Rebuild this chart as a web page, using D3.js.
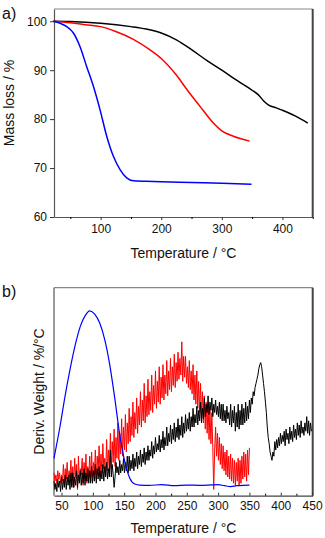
<!DOCTYPE html>
<html><head><meta charset="utf-8">
<script src="https://cdn.jsdelivr.net/npm/d3@7"></script>
<style>
html,body{margin:0;padding:0;background:#fff;}
svg{display:block;font-family:"Liberation Sans",Arial,sans-serif;}
</style></head>
<body>
<svg id="c" width="325" height="538"></svg>
<script>
// ---------- Panel a: TGA mass loss ----------
const aXTicks = [100, 200, 300, 400];
const aYTicks = [60, 70, 80, 90, 100];
const aBlackT = [22, 50, 100, 150, 175, 200, 225, 250, 275, 300, 325, 350, 360, 370, 378, 390, 400, 420, 442];
const aBlackV = [100, 99.95, 99.6, 98.9, 98.4, 97.6, 96.2, 94.2, 92.0, 90.0, 87.9, 85.9, 85.0, 83.6, 82.8, 82.3, 81.8, 80.7, 79.2];
const aRedT = [22, 50, 75, 100, 125, 154, 181, 200, 225, 242, 264, 286, 300, 319, 346];
const aRedV = [100, 99.7, 99.3, 98.9, 97.9, 96.3, 94.2, 92.4, 89.0, 86.1, 82.6, 79.2, 77.6, 76.5, 75.5];
const aBlueT = [22, 33, 44, 55, 66, 77, 88, 99, 110, 121, 132, 143, 154, 175, 200, 250, 300, 349];
const aBlueV = [100, 99.6, 98.9, 97.6, 94.8, 90.7, 86.7, 81.9, 76.5, 72.4, 69.7, 68.0, 67.4, 67.3, 67.2, 67.05, 66.9, 66.7];

// ---------- Panel b: DTG ----------
const bXTicks = [50, 100, 150, 200, 250, 300, 350, 400, 450];
const bBlueT = [38, 48, 56, 64, 72, 80, 88, 95, 103, 111, 119, 127, 135, 143, 151, 159, 167, 175, 190, 210, 230, 250, 270, 290, 300, 310, 320, 330, 340, 350];
const bBlueV = [18, 34, 48.5, 61.3, 72.6, 81.4, 86.7, 88.9, 87.3, 83, 75, 62.9, 46.9, 29.2, 16.4, 8.4, 5.6, 5.1, 5.0, 5.3, 4.8, 5.1, 5.0, 5.2, 5.3, 4.8, 4.4, 4.8, 5.0, 5.1];
const bRedStart = 38, bRedStep = 1.5;
const bRedV = [
  11,7,10,6,12,8,11,6,10,7, 15,6,13,8,16,7,12,9,17,5,
  14,4,18,9,15,3,19,7,13,10, 18,5,16,8,20,6,14,9,19,7,
  21,9,16,10,22,8,19,12,24,9, 20,11,25,13,18,10,27,12,22,11,
  30,13,26,16,32,14,28,18,35,17, 30,20,37,19,33,22,39,21,35,25,
  42,26,38,29,45,28,40,32,47,30, 43,34,50,33,46,36,54,35,48,38,
  56,39,50,41,58,40,53,44,60,42, 55,45,62,44,57,47,63,46,58,49,
  65,48,60,51,66,50,62,53,68,52, 64,55,69,56,66,58,74,55,67,57,
  67,54,62,52,65,51,60,49,63,46, 58,44,60,42,55,40,54,37,50,35,
  48,32,45,30,44,27,41,25,40,23, 3,22,33,19,30,17,28,15,25,13,
  24,12,21,10,22,9,19,8,20,7, 18,6,17,5,16,7,18,5,17,6,
  19,8,21,9,20,7,22,10,23];
const bBlackStart = 38, bBlackStep = 1.5;
const bBlackV = [
  7,3,6,2,8,4,7,2,9,3, 8,4,10,3,9,5,10,3,11,4,
  11,4,9,5,12,4,10,6,12,5, 11,6,13,5,11,7,13,6,12,6,
  14,6,12,7,15,6,13,8,14,7, 12,8,15,7,14,9,16,8,13,9,
  22,9,15,10,4,9,16,11,14,10, 17,11,15,12,18,11,16,12,19,11,
  19,12,17,13,20,12,18,14,21,13, 19,15,22,14,20,16,23,15,21,17,
  24,17,22,19,26,18,24,20,28,21, 25,22,29,21,27,23,31,22,28,24,
  33,24,30,26,34,25,32,27,35,26, 33,28,37,27,34,29,38,28,35,30,
  39,31,37,32,40,31,38,33,42,33, 39,35,43,34,41,36,45,35,42,37,
  47,38,44,40,48,39,45,41,47,38, 44,40,46,39,43,38,45,37,44,36,
  44,36,41,35,43,37,40,34,44,33, 41,35,43,31,40,33,44,32,41,34,
  44,34,42,35,45,36,43,37,46,40, 47,44,50,48,52,54,56,58,61,63,
  64,62,58,54,50,45,40,33,28,25, 21,19,17,21,19,26,22,27,23,28,
  24,30,25,29,26,31,24,32,27,30, 25,33,27,31,26,34,28,32,27,35,
  29,34,28,36,30,33,29,35,31,38, 30,36,29,35,31];

const svg = d3.select("#c");
const FONT = '"Liberation Sans",Arial,sans-serif';

function frame(g, x0, x1, y0, y1) {
  g.append("line").attr("x1", x0).attr("x2", x1).attr("y1", y0).attr("y2", y0).attr("stroke", "#888").attr("stroke-width", 1.2);
  g.append("line").attr("x1", x1).attr("x2", x1).attr("y1", y0).attr("y2", y1).attr("stroke", "#444").attr("stroke-width", 2);
}

// ===== Panel a =====
const ax = d3.scaleLinear().domain([23, 450]).range([54, 312.7]);
const ay = d3.scaleLinear().domain([60, 102.5]).range([217, 9]);
const ga = svg.append("g");
frame(ga, 54, 312.7, 9, 217);

const axisAx = d3.axisBottom(ax).tickValues(aXTicks).tickSize(3).tickSizeOuter(0).tickPadding(4);
const gax = ga.append("g").attr("transform", "translate(0,217)").call(axisAx);
ga.append("g").attr("transform", "translate(0,217)")
  .call(d3.axisBottom(ax).tickValues([50,150,250,350,450]).tickSize(2).tickFormat("").tickSizeOuter(0))
  .call(g => g.select(".domain").remove());
const gay = ga.append("g").attr("transform", "translate(54,0)")
  .call(d3.axisLeft(ay).tickValues(aYTicks).tickSize(4).tickSizeOuter(0).tickPadding(3));
[gax, gay].forEach(g => {
  g.selectAll("text").attr("font-size", 12).attr("font-family", FONT).attr("fill", "#111");
  g.selectAll("line").attr("stroke", "#333");
  g.select(".domain").attr("stroke", "#555").attr("stroke-width", 1.2);
});

const lineA = d3.line().x(d => ax(d[0])).y(d => ay(d[1])).curve(d3.curveMonotoneX);
[[aBlackT, aBlackV, "#000"], [aRedT, aRedV, "#ff0000"], [aBlueT, aBlueV, "#0000ff"]].forEach(([t, v, c]) => {
  ga.append("path").datum(t.map((d, i) => [d, v[i]])).attr("d", lineA)
    .attr("fill", "none").attr("stroke", c).attr("stroke-width", 1.5);
});

ga.append("text").attr("x", 183.5).attr("y", 258).attr("text-anchor", "middle")
  .attr("font-size", 14).attr("font-family", FONT).attr("fill", "#111").text("Temperature / °C");
ga.append("text").attr("transform", "translate(14,103) rotate(-90)").attr("text-anchor", "middle")
  .attr("font-size", 14).attr("font-family", FONT).attr("fill", "#111").text("Mass loss / %");
ga.append("text").attr("x", 2).attr("y", 19).attr("font-size", 16).attr("font-family", FONT).attr("fill", "#111").text("a)");

// ===== Panel b =====
const bx = d3.scaleLinear().domain([38, 451]).range([54, 312.7]);
const by = d3.scaleLinear().domain([0, 100]).range([495.7, 287.7]);
const gb = svg.append("g");
frame(gb, 54, 312.7, 287.7, 495.7);

const gbx = gb.append("g").attr("transform", "translate(0,495.7)")
  .call(d3.axisBottom(bx).tickValues(bXTicks).tickSize(-3).tickSizeOuter(0).tickPadding(6));
gb.append("g").attr("transform", "translate(0,495.7)")
  .call(d3.axisBottom(bx).tickValues([75,125,175,225,275,325,375,425]).tickSize(-2).tickFormat("").tickSizeOuter(0))
  .call(g => g.select(".domain").remove());
gbx.selectAll("text").attr("font-size", 12).attr("font-family", FONT).attr("fill", "#111");
gbx.selectAll("line").attr("stroke", "#333");
gbx.select(".domain").attr("stroke", "#444").attr("stroke-width", 1.2);
gb.append("line").attr("x1", 54).attr("x2", 54).attr("y1", 287.7).attr("y2", 495.7).attr("stroke", "#555").attr("stroke-width", 1.2);

const lineB = d3.line().x(d => bx(d[0])).y(d => by(d[1]));
const redPts = bRedV.map((v, i) => [bRedStart + i * bRedStep, v]);
const blackPts = bBlackV.map((v, i) => [bBlackStart + i * bBlackStep, v]);
const bluePts = bBlueT.map((t, i) => [t, bBlueV[i]]);
gb.append("path").datum(redPts).attr("d", lineB).attr("fill", "none").attr("stroke", "#ff0000").attr("stroke-width", 1);
gb.append("path").datum(blackPts).attr("d", lineB).attr("fill", "none").attr("stroke", "#000").attr("stroke-width", 1);
gb.append("path").datum(bluePts).attr("d", lineB.curve(d3.curveMonotoneX)).attr("fill", "none").attr("stroke", "#0000ff").attr("stroke-width", 1.2);

gb.append("text").attr("x", 183.5).attr("y", 533).attr("text-anchor", "middle")
  .attr("font-size", 14).attr("font-family", FONT).attr("fill", "#111").text("Temperature / °C");
gb.append("text").attr("transform", "translate(44,391.5) rotate(-90)").attr("text-anchor", "middle")
  .attr("font-size", 14).attr("font-family", FONT).attr("fill", "#111").text("Deriv. Weight / %/°C");
gb.append("text").attr("x", 2).attr("y", 297).attr("font-size", 16).attr("font-family", FONT).attr("fill", "#111").text("b)");
</script>
</body></html>
